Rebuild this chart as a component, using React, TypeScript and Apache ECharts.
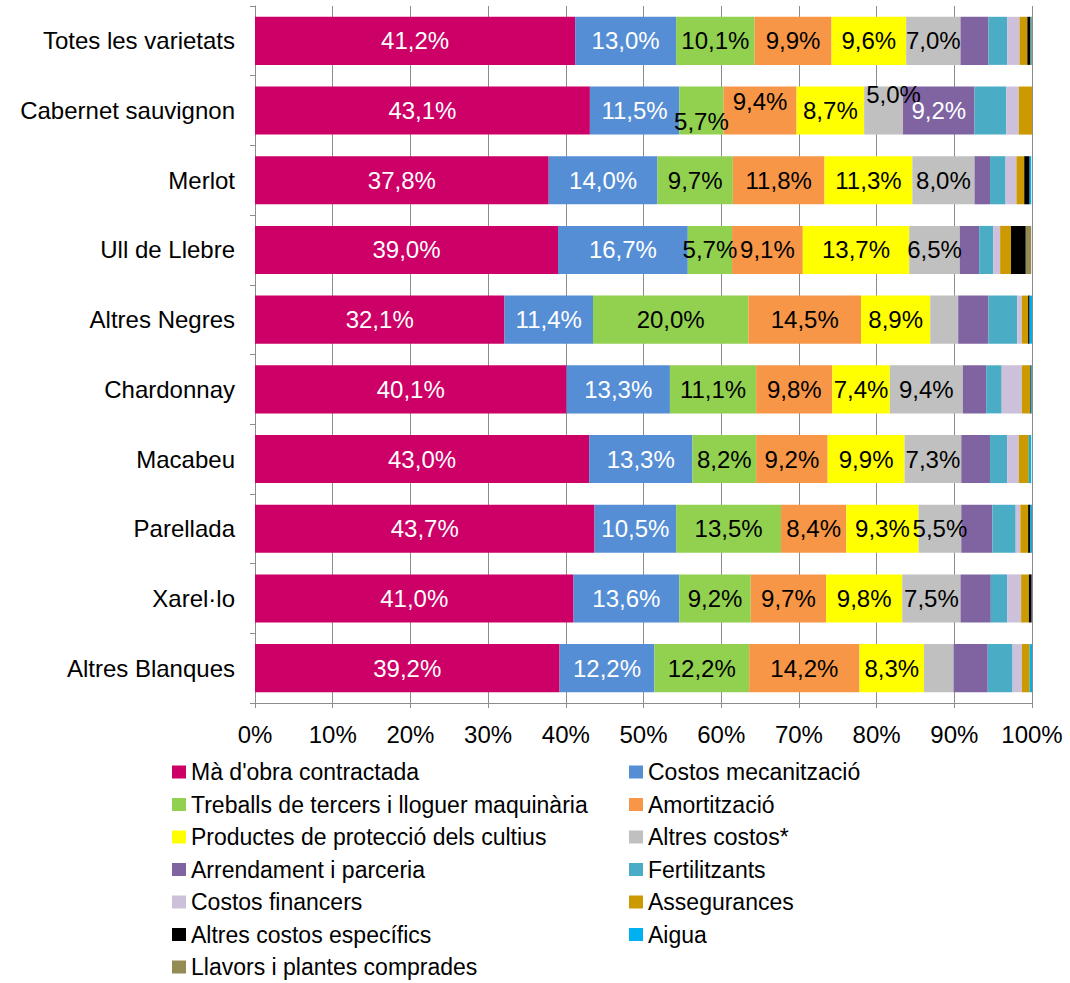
import React, { useEffect, useRef } from "react";
import * as echarts from "echarts";

const categories = [
  "Totes les varietats",
  "Cabernet sauvignon",
  "Merlot",
  "Ull de Llebre",
  "Altres Negres",
  "Chardonnay",
  "Macabeu",
  "Parellada",
  "Xarel·lo",
  "Altres Blanques",
];

const seriesNames = [
  "Mà d'obra contractada",
  "Costos mecanització",
  "Treballs de tercers i lloguer maquinària",
  "Amortització",
  "Productes de protecció dels cultius",
  "Altres costos*",
  "Arrendament i parceria",
  "Fertilitzants",
  "Costos financers",
  "Assegurances",
  "Altres costos específics",
  "Aigua",
  "Llavors i plantes comprades",
];

const maObra = [41.2, 43.1, 37.8, 39.0, 32.1, 40.1, 43.0, 43.7, 41.0, 39.2];
const mecanitzacio = [13.0, 11.5, 14.0, 16.7, 11.4, 13.3, 13.3, 10.5, 13.6, 12.2];
const treballs = [10.1, 5.7, 9.7, 5.7, 20.0, 11.1, 8.2, 13.5, 9.2, 12.2];
const amortitzacio = [9.9, 9.4, 11.8, 9.1, 14.5, 9.8, 9.2, 8.4, 9.7, 14.2];
const productes = [9.6, 8.7, 11.3, 13.7, 8.9, 7.4, 9.9, 9.3, 9.8, 8.3];
const altresCostos = [7.0, 5.0, 8.0, 6.5, 3.6, 9.4, 7.3, 5.5, 7.5, 3.8];
const arrendament = [3.6, 9.2, 2.0, 2.5, 3.9, 3.0, 3.7, 4.0, 3.9, 4.4];
const fertilitzants = [2.4, 4.1, 2.0, 1.8, 3.7, 2.0, 2.2, 3.0, 2.1, 3.2];
const financers = [1.6, 1.6, 1.4, 0.9, 0.6, 2.6, 1.5, 0.6, 1.8, 1.2];
const assegurances = [1.0, 1.7, 1.0, 1.4, 0.8, 1.1, 1.3, 1.0, 1.0, 1.0];
const especifics = [0.4, 0, 0.7, 1.9, 0.2, 0.1, 0, 0.3, 0.35, 0];
const aigua = [0.1, 0, 0.2, 0, 0.3, 0.2, 0.3, 0.2, 0, 0.3];
const llavors = [0.1, 0, 0, 0.7, 0, 0, 0, 0, 0, 0];

const seriesValues = [
  maObra,
  mecanitzacio,
  treballs,
  amortitzacio,
  productes,
  altresCostos,
  arrendament,
  fertilitzants,
  financers,
  assegurances,
  especifics,
  aigua,
  llavors,
];

const colors = [
  "#CC0066",
  "#558ED5",
  "#92D050",
  "#F79646",
  "#FFFF00",
  "#C0C0C0",
  "#8064A2",
  "#4BACC6",
  "#CCC0DA",
  "#CC9900",
  "#000000",
  "#00B0F0",
  "#948A54",
];

const labelColors = ["#ffffff", "#ffffff", "#000000", "#000000", "#000000", "#000000", "#ffffff"];

// label offsets (series index -> category index -> [dx, dy]) to mimic overlap avoidance
const labelOffsets: Record<string, [number, number]> = {
  "2-1": [0, 11],
  "3-1": [0, -9],
  "5-1": [10, -16],
};

const FONT = "'Liberation Sans', Arial, sans-serif";

export default function App() {
  const ref = useRef<HTMLDivElement>(null);

  useEffect(() => {
    document.body.style.margin = "0";
    if (!ref.current) return;
    const chart = echarts.init(ref.current, undefined, { renderer: "svg" });

    const series = seriesNames.map((name, si) => ({
      name,
      type: "bar",
      stack: "total",
      barCategoryGap: "31%",
      itemStyle: { color: colors[si] },
      data: seriesValues[si].map((v, ci) => {
        const off = labelOffsets[`${si}-${ci}`];
        return {
          value: v,
          label: {
            show: v >= 5,
            ...(off ? { offset: off } : {}),
          },
        };
      }),
      label: {
        show: false,
        position: "inside",
        color: labelColors[si] || "#000",
        fontSize: 24,
        fontFamily: FONT,
        formatter: (p: any) => p.value.toFixed(1).replace(".", ",") + "%",
      },
    }));

    const legendText = { fontSize: 23, fontFamily: FONT, color: "#000", lineHeight: 26 };
    const legendBase = {
      orient: "vertical",
      top: 759,
      height: 224,
      padding: 0,
      itemWidth: 14,
      itemHeight: 13,
      itemGap: 6.5,
      icon: "rect",
      textStyle: legendText,
      selectedMode: false,
    };

    chart.setOption({
      animation: false,
      textStyle: { fontFamily: FONT },
      grid: { left: 255, right: 38, top: 6, height: 697, containLabel: false },
      legend: [
        {
          ...legendBase,
          left: 172,
          data: seriesNames.filter((_, i) => i % 2 === 0),
        },
        {
          ...legendBase,
          left: 629,
          data: seriesNames.filter((_, i) => i % 2 === 1),
        },
      ],
      xAxis: {
        type: "value",
        min: 0,
        max: 100,
        interval: 10,
        axisLine: { show: true, lineStyle: { color: "#8c8c8c", width: 1 } },
        axisTick: { show: true, length: 5, lineStyle: { color: "#8c8c8c" } },
        splitLine: { show: true, lineStyle: { color: "#8c8c8c", width: 1 } },
        axisLabel: {
          fontSize: 24,
          color: "#000",
          fontFamily: FONT,
          margin: 19,
          formatter: "{value}%",
        },
      },
      yAxis: {
        type: "category",
        inverse: true,
        data: categories,
        axisLine: { show: true, lineStyle: { color: "#8c8c8c", width: 1 } },
        axisTick: { show: true, length: 5, inside: false, lineStyle: { color: "#8c8c8c" } },
        axisLabel: { fontSize: 24, color: "#000", fontFamily: FONT, margin: 20 },
      },
      series,
    });

    return () => chart.dispose();
  }, []);

  return <div ref={ref} style={{ width: 1070, height: 983 }} />;
}
